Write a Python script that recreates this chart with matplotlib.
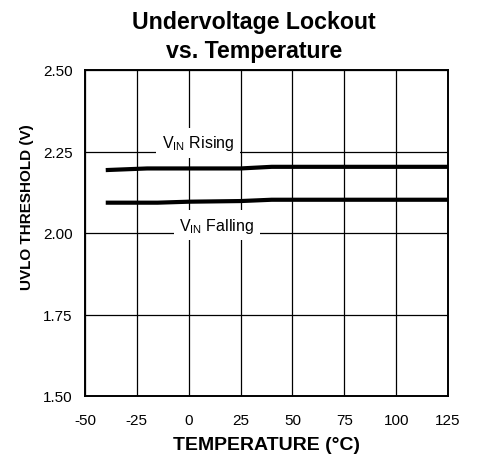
import matplotlib
matplotlib.use("Agg")
import matplotlib.pyplot as plt
from matplotlib import font_manager

plt.rcParams["font.family"] = ["Liberation Sans", "DejaVu Sans"]
plt.rcParams["mathtext.fontset"] = "custom"
plt.rcParams["mathtext.rm"] = "Liberation Sans"
plt.rcParams["axes.unicode_minus"] = False

# UVLO threshold vs temperature
temp_rising = [-40, -20, 25, 40, 125]
uvlo_rising = [2.193, 2.198, 2.198, 2.203, 2.203]
temp_falling = [-40, -15, 0, 25, 40, 125]
uvlo_falling = [2.093, 2.093, 2.096, 2.098, 2.102, 2.102]

x_ticks = [-50, -25, 0, 25, 50, 75, 100, 125]
y_ticks = [1.50, 1.75, 2.00, 2.25, 2.50]

fig = plt.figure(figsize=(4.78, 4.6), dpi=100)
ax = fig.add_axes([85 / 478, 63 / 460, 363 / 478, 326 / 460])

ax.plot(temp_rising, uvlo_rising, color="black", lw=3, solid_capstyle="butt", zorder=3)
ax.plot(temp_falling, uvlo_falling, color="black", lw=3, solid_capstyle="butt", zorder=3)

ax.set_xlim(-50, 125)
ax.set_ylim(1.5, 2.5)
ax.set_xticks(x_ticks)
ax.set_yticks(y_ticks)
ax.set_yticklabels([f"{v:.2f}" for v in y_ticks])
ax.tick_params(length=0, labelsize=11)
ax.tick_params(axis="x", pad=12)
ax.tick_params(axis="y", pad=9)
ax.grid(True, color="black", lw=0.9)
ax.set_axisbelow(True)
for s in ax.spines.values():
    s.set_linewidth(1.4)

box = dict(facecolor="white", edgecolor="none", pad=4)
ax.text(4.5, 2.277, r"V$_{\mathregular{IN}}$ Rising", ha="center", va="center",
        fontsize=11.5, bbox=box, zorder=2)
ax.text(13.5, 2.024, r"V$_{\mathregular{IN}}$ Falling", ha="center", va="center",
        fontsize=11.5, bbox=box, zorder=2)

fig.text(254 / 478, 1 - 37 / 460, "Undervoltage Lockout\nvs. Temperature",
         ha="center", va="center", fontsize=16.7, fontweight="bold", linespacing=1.35)
ax.set_xlabel("TEMPERATURE (°C)", fontsize=14, fontweight="bold", labelpad=7)

# y label in the original is a narrow face
names = {f.name for f in font_manager.fontManager.ttflist}
if "Liberation Sans Narrow" in names:
    yfont = dict(family="Liberation Sans Narrow", fontsize=12)
else:
    yfont = dict(fontsize=11)
fig.text(27 / 478, 1 - 207 / 460, "UVLO THRESHOLD (V)", rotation=90,
         ha="center", va="center", fontweight="bold", **yfont)

fig.savefig("out.png", dpi=100)
